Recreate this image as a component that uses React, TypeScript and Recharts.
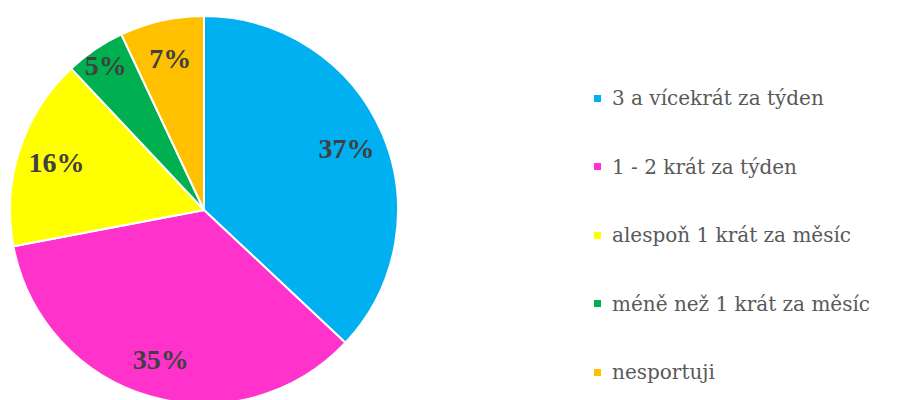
import { PieChart, Pie, Cell, Legend } from "recharts"

// podíly odpovědí (v %)
const categories = [
  "3 a vícekrát za týden",
  "1 - 2 krát za týden",
  "alespoň 1 krát za měsíc",
  "méně než 1 krát za měsíc",
  "nesportuji",
]
const shares = [37, 35, 16, 5, 7]
const colors = ["#00B0F0", "#FF33CC", "#FFFF00", "#00B050", "#FFC000"]

const data = categories.map((name, i) => ({ name, value: shares[i] }))

const RADIAN = Math.PI / 180

const renderLabel = (props: any) => {
  const { cx, cy, midAngle, outerRadius, value, percent } = props
  // malé výseče mají popisek blíž k okraji
  const r = outerRadius * (percent < 0.06 ? 0.9 : 0.8)
  const x = cx + r * Math.cos(-midAngle * RADIAN)
  const y = cy + r * Math.sin(-midAngle * RADIAN)
  return (
    <text
      x={x}
      y={y}
      textAnchor="middle"
      dominantBaseline="central"
      fill="#404040"
      fontFamily="serif"
      fontWeight="bold"
      fontSize={28}
    >
      {value}%
    </text>
  )
}

const renderLegend = () => (
  <div style={{ fontFamily: "'DejaVu Serif', serif", fontSize: 20, color: "#595959" }}>
    {data.map((d, i) => (
      <div key={d.name} style={{ display: "flex", alignItems: "center", height: 68.5 }}>
        <span
          style={{
            display: "inline-block",
            width: 7,
            height: 7,
            background: colors[i],
            marginRight: 11,
          }}
        />
        <span>{d.name}</span>
      </div>
    ))}
  </div>
)

export default function App() {
  return (
    <div style={{ position: "absolute", left: 0, top: 0, background: "#fff" }}>
      <PieChart width={912} height={400} margin={{ top: 0, right: 0, bottom: 0, left: 0 }}>
        <Pie
          data={data}
          dataKey="value"
          nameKey="name"
          cx={204}
          cy={210}
          outerRadius={194}
          startAngle={90}
          endAngle={-270}
          stroke="#fff"
          strokeWidth={2}
          label={renderLabel}
          labelLine={false}
          isAnimationActive={false}
        >
          {data.map((d, i) => (
            <Cell key={d.name} fill={colors[i]} />
          ))}
        </Pie>
        <Legend
          content={renderLegend}
          layout="vertical"
          wrapperStyle={{ left: 594, top: 64, width: 318 }}
        />
      </PieChart>
    </div>
  )
}
